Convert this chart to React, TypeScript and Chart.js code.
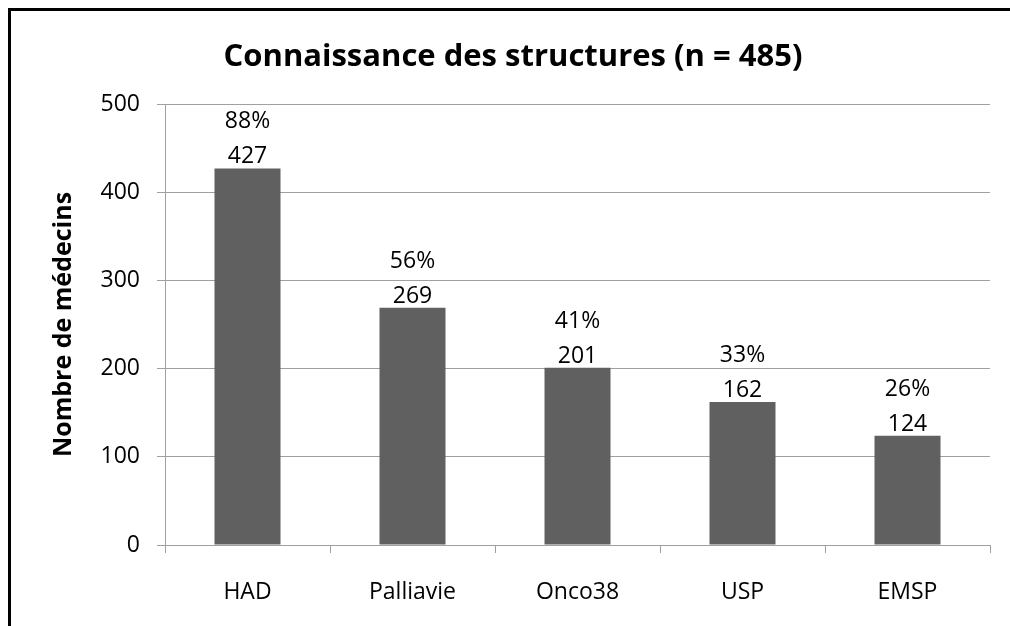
import React, { useEffect, useRef } from "react";
import { Chart, registerables } from "chart.js";

Chart.register(...registerables);

const categories = ["HAD", "Palliavie", "Onco38", "USP", "EMSP"];
const counts = [427, 269, 201, 162, 124];
const percents = ["88%", "56%", "41%", "33%", "26%"];
const yTicks = [0, 100, 200, 300, 400, 500];

const FONT = "'Open Sans', sans-serif";

const labelPlugin = {
  id: "barLabels",
  afterDatasetsDraw(chart: any) {
    const ctx = chart.ctx;
    const meta = chart.getDatasetMeta(0);
    ctx.save();
    ctx.fillStyle = "#000";
    ctx.font = `23px ${FONT}`;
    ctx.textAlign = "center";
    ctx.textBaseline = "alphabetic";
    meta.data.forEach((bar: any, i: number) => {
      ctx.fillText(String(counts[i]), bar.x, bar.y - 5);
      ctx.fillText(percents[i], bar.x, bar.y - 40);
    });
    ctx.restore();
  },
};

export default function App() {
  const ref = useRef<HTMLCanvasElement | null>(null);
  useEffect(() => {
    if (!ref.current) return;
    const chart = new Chart(ref.current, {
      type: "bar",
      data: {
        labels: categories,
        datasets: [
          {
            data: counts,
            backgroundColor: "#606060",
            borderWidth: 0,
            barPercentage: 0.4,
            categoryPercentage: 1,
          },
        ],
      },
      options: {
        responsive: false,
        animation: false,
        layout: { padding: { left: 25, right: 20, top: 0, bottom: 0 } },
        plugins: {
          legend: { display: false },
          tooltip: { enabled: false },
          title: {
            display: true,
            text: "Connaissance des structures (n = 485)",
            color: "#000",
            font: { family: FONT, size: 31, weight: "bold", lineHeight: 1.2 },
            padding: { top: 28, bottom: 27.8 },
          },
        },
        scales: {
          x: {
            grid: {
              display: true,
              drawOnChartArea: false,
              drawTicks: true,
              tickLength: 8,
              color: "#a0a0a0",
              offset: true,
            },
            border: { display: true, color: "#a0a0a0" },
            ticks: {
              color: "#000",
              font: { family: FONT, size: 23 },
              padding: 26,
              maxRotation: 0,
            },
            afterFit(scale: any) {
              scale.height = 81;
            },
          },
          y: {
            min: 0,
            max: 500,
            afterBuildTicks(scale: any) {
              scale.ticks = yTicks.map((v) => ({ value: v }));
            },
            grid: {
              color: "#a0a0a0",
              tickLength: 8,
              drawTicks: true,
            },
            border: { display: true, color: "#a0a0a0" },
            ticks: {
              color: "#000",
              font: { family: FONT, size: 23 },
              padding: 17,
            },
            title: {
              display: true,
              text: "Nombre de médecins",
              color: "#000",
              font: { family: FONT, size: 25, weight: "bold", lineHeight: 1.2 },
              padding: { top: 13, bottom: 0 },
            },
            afterFit(scale: any) {
              scale.width = 129;
            },
          },
        },
      },
      plugins: [labelPlugin],
    } as any);
    return () => chart.destroy();
  }, []);

  return (
    <div
      style={{
        position: "fixed",
        left: 0,
        top: 0,
        width: "100vw",
        height: "100vh",
        overflow: "hidden",
        background: "#fff",
      }}
    >
      <div
        style={{
          position: "absolute",
          left: 8,
          top: 8,
          width: 1010,
          height: 630,
          border: "3px solid #000",
          boxSizing: "content-box",
        }}
      >
        <canvas
          ref={ref}
          width={999}
          height={615}
          style={{ display: "block", width: 999, height: 615 }}
        />
      </div>
    </div>
  );
}
